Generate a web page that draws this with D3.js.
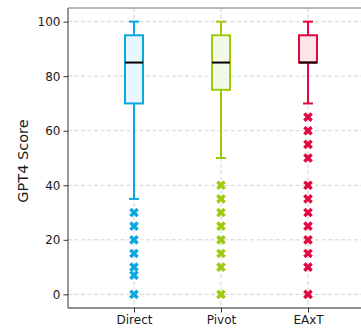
<!DOCTYPE html>
<meta charset="utf-8">
<html>
<head>
    <script src="https://cdn.jsdelivr.net/npm/d3@7"></script>
    <style>
        body { margin: 0; background: #fff; }
        text { font-family: "DejaVu Sans", sans-serif; fill: #1a1a1a; }
    </style>
</head>
<body>
    <script>
    // box stats
    var categories = ["Direct", "Pivot", "EAxT"];
    var whiskLow  = [35, 50, 70];
    var q1        = [70, 75, 85];
    var medians   = [85, 85, 85];
    var q3        = [95, 95, 95];
    var whiskHigh = [100, 100, 100];
    var outliersDirect = [30, 25, 20, 15, 10, 7, 0];
    var outliersPivot  = [40, 35, 30, 25, 20, 15, 10, 0];
    var outliersEAxT   = [65, 60, 55, 50, 40, 35, 30, 25, 20, 15, 10, 0];
    var yTicks = [0, 20, 40, 60, 80, 100];

    var strokeColors = ["#0aa8de", "#9ccb0c", "#e3073f"];
    var fillColors   = ["#e6f6fc", "#f4f9e6", "#fce6ec"];
    var outliers = [outliersDirect, outliersPivot, outliersEAxT];

    function drawChart() {
        var W = 361, H = 331;
        var plotLeft = 68, plotTop = 8, plotBottom = 308;

        var svg = d3.select("body")
           .append("svg")
           .attr("width", W)
           .attr("height", H);

        var xScale = d3.scalePoint()
           .domain(categories)
           .range([134, 308]);

        var yScale = d3.scaleLinear()
           .domain([-5, 105])
           .range([plotBottom, plotTop]);

        var boxW = 18, capW = 10;

        // grid
        svg.selectAll(".hgrid")
           .data(yTicks)
           .enter()
           .append("line")
           .attr("x1", plotLeft).attr("x2", W)
           .attr("y1", function(d) { return yScale(d); })
           .attr("y2", function(d) { return yScale(d); })
           .attr("stroke", "#c8c8c8")
           .attr("stroke-width", 0.8)
           .attr("stroke-dasharray", "4,2.5");

        svg.selectAll(".vgrid")
           .data(categories)
           .enter()
           .append("line")
           .attr("x1", function(d) { return xScale(d); })
           .attr("x2", function(d) { return xScale(d); })
           .attr("y1", plotTop).attr("y2", plotBottom)
           .attr("stroke", "#c8c8c8")
           .attr("stroke-width", 0.8)
           .attr("stroke-dasharray", "4,2.5");

        // boxes
        var g = svg.selectAll(".box")
           .data(categories)
           .enter()
           .append("g");

        g.append("line")
           .attr("x1", function(d) { return xScale(d); })
           .attr("x2", function(d) { return xScale(d); })
           .attr("y1", function(d, i) { return yScale(whiskLow[i]); })
           .attr("y2", function(d, i) { return yScale(q1[i]); })
           .attr("stroke", function(d, i) { return strokeColors[i]; })
           .attr("stroke-width", 2);

        g.append("line")
           .attr("x1", function(d) { return xScale(d); })
           .attr("x2", function(d) { return xScale(d); })
           .attr("y1", function(d, i) { return yScale(q3[i]); })
           .attr("y2", function(d, i) { return yScale(whiskHigh[i]); })
           .attr("stroke", function(d, i) { return strokeColors[i]; })
           .attr("stroke-width", 2);

        [whiskLow, whiskHigh].forEach(function(arr) {
            g.append("line")
               .attr("x1", function(d) { return xScale(d) - capW / 2; })
               .attr("x2", function(d) { return xScale(d) + capW / 2; })
               .attr("y1", function(d, i) { return yScale(arr[i]); })
               .attr("y2", function(d, i) { return yScale(arr[i]); })
               .attr("stroke", function(d, i) { return strokeColors[i]; })
               .attr("stroke-width", 2);
        });

        g.append("rect")
           .attr("x", function(d) { return xScale(d) - boxW / 2; })
           .attr("y", function(d, i) { return yScale(q3[i]); })
           .attr("width", boxW)
           .attr("height", function(d, i) { return yScale(q1[i]) - yScale(q3[i]); })
           .attr("fill", function(d, i) { return fillColors[i]; })
           .attr("stroke", function(d, i) { return strokeColors[i]; })
           .attr("stroke-width", 2);

        g.append("line")
           .attr("x1", function(d) { return xScale(d) - boxW / 2; })
           .attr("x2", function(d) { return xScale(d) + boxW / 2; })
           .attr("y1", function(d, i) { return yScale(medians[i]); })
           .attr("y2", function(d, i) { return yScale(medians[i]); })
           .attr("stroke", "#000")
           .attr("stroke-width", 2);

        // outliers as filled X
        var xMark = d3.symbol().type(d3.symbolCross).size(58);
        categories.forEach(function(c, i) {
            svg.selectAll(".out" + i)
               .data(outliers[i])
               .enter()
               .append("path")
               .attr("d", xMark)
               .attr("transform", function(d) {
                   return "translate(" + xScale(c) + "," + yScale(d) + ") rotate(45)";
               })
               .attr("fill", strokeColors[i]);
        });

        // axes
        var yAxis = d3.axisLeft(yScale).tickValues(yTicks).tickSize(4.5).tickPadding(3);
        var gy = svg.append("g")
           .attr("transform", "translate(" + plotLeft + ",0)")
           .call(yAxis);
        gy.select(".domain").remove();
        gy.selectAll("text").style("font-size", "12px").attr("font-family", null);
        gy.selectAll("line").attr("stroke", "#333");

        var xAxis = d3.axisBottom(xScale).tickSize(4.5).tickPadding(3);
        var gx = svg.append("g")
           .attr("transform", "translate(0," + plotBottom + ")")
           .call(xAxis);
        gx.select(".domain").remove();
        gx.selectAll("text").style("font-size", "12px").attr("font-family", null);
        gx.selectAll("line").attr("stroke", "#333");

        // spines
        svg.append("line")
           .attr("x1", plotLeft).attr("x2", plotLeft)
           .attr("y1", plotTop).attr("y2", plotBottom)
           .attr("stroke", "#333").attr("stroke-width", 1);
        svg.append("line")
           .attr("x1", plotLeft).attr("x2", W)
           .attr("y1", plotBottom).attr("y2", plotBottom)
           .attr("stroke", "#222").attr("stroke-width", 1);
        svg.append("line")
           .attr("x1", plotLeft).attr("x2", W)
           .attr("y1", plotTop).attr("y2", plotTop)
           .attr("stroke", "#777").attr("stroke-width", 1);

        svg.append("text")
           .attr("transform", "translate(23," + ((plotTop + plotBottom) / 2 + 3) + ") rotate(-90)")
           .attr("text-anchor", "middle")
           .attr("dy", "0.35em")
           .style("font-size", "14.5px")
           .text("GPT4 Score");
    }

    drawChart();
    </script>
</body>
</html>
